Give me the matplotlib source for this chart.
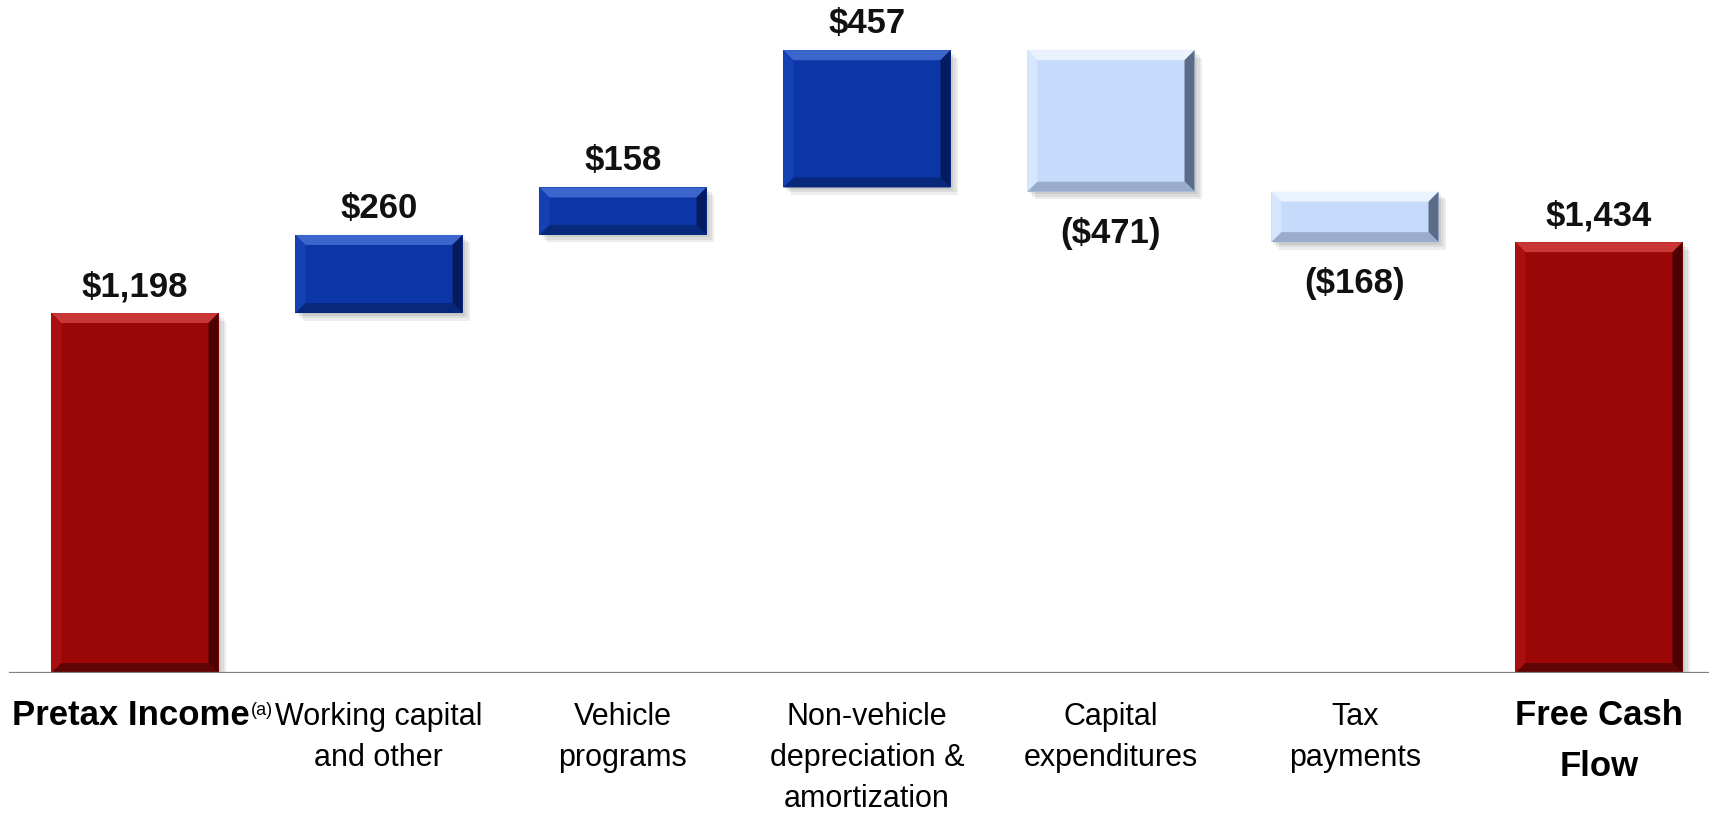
import matplotlib
matplotlib.use("Agg")
import matplotlib.pyplot as plt
from matplotlib.patches import Polygon, Rectangle

categories = ["Pretax Income", "Working capital\nand other", "Vehicle\nprograms",
              "Non-vehicle\ndepreciation &\namortization", "Capital\nexpenditures",
              "Tax\npayments", "Free Cash\nFlow"]
values = [1198, 260, 158, 457, -471, -168, 1434]
is_total = [True, False, False, False, False, False, True]
value_labels = ["$1,198", "$260", "$158", "$457", "($471)", "($168)", "$1,434"]

# face, top, left, right, bottom
RED = ["#9b0606", "#c93636", "#ab1010", "#4c0202", "#600404"]
BLUE = ["#0c36a8", "#3d66cc", "#1441b4", "#061a5e", "#08287c"]
LIGHT = ["#c4dbfb", "#eaf2ff", "#d6e6ff", "#5c6b86", "#9aaccb"]

W, H = 1709, 817
BASE_PX = 673  # baseline from top in pixels
FONT = ["Liberation Sans", "DejaVu Sans"]


def main():
    fig = plt.figure(figsize=(W / 100, H / 100), dpi=100)
    base = 1 - BASE_PX / H
    ax = fig.add_axes([0, base, 1, 1 - base])
    ax.set_xlim(-0.553, 6.451)
    ax.set_ylim(0, 2240)
    ax.axis("off")

    p0 = ax.transData.transform((0, 0))
    p1 = ax.transData.transform((1, 1))
    px_x, px_y = p1[0] - p0[0], p1[1] - p0[1]

    bw = 0.685
    bev = 10
    bx, by = bev / px_x, bev / px_y

    running = 0
    for i, v in enumerate(values):
        if is_total[i]:
            lo, hi = 0, v
            running = v
            cols = RED
        else:
            lo, hi = sorted([running, running + v])
            running += v
            cols = BLUE if v > 0 else LIGHT
        x0, x1 = i - bw / 2, i + bw / 2

        # soft shadow
        for k in range(1, 4):
            ax.add_patch(Rectangle((x0 + k * 2.5 / px_x, lo - k * 2.5 / px_y), bw, hi - lo,
                                   color="#000000", alpha=0.07, lw=0, zorder=1))
        ax.bar(i, hi - lo, bottom=lo, width=bw, color=cols[0], zorder=2)
        polys = [
            ([(x0, hi), (x1, hi), (x1 - bx, hi - by), (x0 + bx, hi - by)], cols[1]),
            ([(x0, lo), (x0, hi), (x0 + bx, hi - by), (x0 + bx, lo + by)], cols[2]),
            ([(x1, lo), (x1, hi), (x1 - bx, hi - by), (x1 - bx, lo + by)], cols[3]),
            ([(x0, lo), (x1, lo), (x1 - bx, lo + by), (x0 + bx, lo + by)], cols[4]),
        ]
        for pts, c in polys:
            ax.add_patch(Polygon(pts, closed=True, color=c, lw=0, zorder=3))

        if v > 0:
            ax.annotate(value_labels[i], (i, hi), xytext=(0, 10), textcoords="offset pixels",
                        ha="center", va="bottom", fontsize=25, fontweight="bold",
                        family=FONT, color="#111111")
        else:
            ax.annotate(value_labels[i], (i, lo), xytext=(0, -25), textcoords="offset pixels",
                        ha="center", va="top", fontsize=25, fontweight="bold",
                        family=FONT, color="#111111")

        if is_total[i]:
            t = ax.annotate(categories[i], (i, 0), xytext=(-4 if i == 0 else 0, -26),
                            textcoords="offset pixels",
                            ha="center", va="top", fontsize=25, fontweight="bold",
                            family=FONT, linespacing=1.7, color="#000000",
                            annotation_clip=False)
            if i == 0:
                ax.annotate("(a)", xy=(1, 1), xycoords=t, xytext=(1, -3),
                            textcoords="offset pixels", ha="left", va="top", fontsize=13,
                            family=FONT, color="#000000")
        else:
            ax.annotate(categories[i], (i, 0), xytext=(0, -29), textcoords="offset pixels",
                        ha="center", va="top", fontsize=22,
                        family=FONT, linespacing=1.48, color="#000000",
                        annotation_clip=False)

    ax.axhline(0, xmin=10 / W, xmax=1, color="#7f7f7f", lw=1.6, zorder=4)

    fig.savefig("out.png", dpi=100, facecolor="white")


if __name__ == "__main__":
    main()
